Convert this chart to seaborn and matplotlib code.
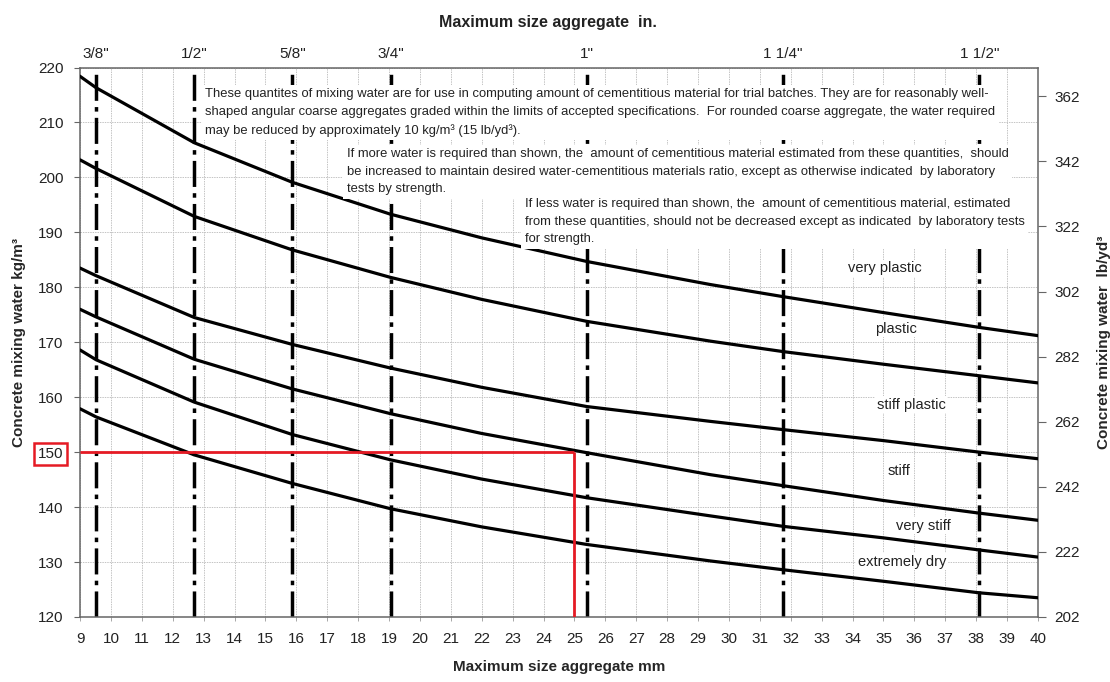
import numpy as np
import pandas as pd
import matplotlib
matplotlib.use('Agg')
import matplotlib.pyplot as plt
import seaborn as sns

# ---------------- data ----------------
sizes_mm = [9, 9.525, 12.7, 15.875, 19.05, 22, 25.4, 29.4, 31.75, 35, 38.1, 40]
very_plastic = [218.4, 216.3, 206.3, 199.1, 193.3, 189.0, 184.7, 180.5, 178.3, 175.4, 172.7, 171.2]
plastic = [203.2, 201.6, 192.9, 186.8, 181.8, 177.8, 173.8, 170.2, 168.3, 166.0, 163.9, 162.6]
stiff_plastic = [183.5, 182.1, 174.5, 169.6, 165.3, 161.8, 158.3, 155.6, 154.1, 152.1, 150.0, 148.8]
stiff = [176.0, 174.6, 166.9, 161.5, 157.0, 153.4, 149.9, 145.9, 143.9, 141.2, 138.9, 137.6]
very_stiff = [168.6, 166.8, 159.1, 153.2, 148.6, 145.1, 141.7, 138.4, 136.5, 134.4, 132.2, 130.9]
extremely_dry = [157.9, 156.4, 149.5, 144.3, 139.7, 136.4, 133.2, 130.2, 128.6, 126.5, 124.4, 123.5]

consistency_names = ['very plastic', 'plastic', 'stiff plastic', 'stiff', 'very stiff', 'extremely dry']
consistency_label_x = [35.05, 35.4, 35.9, 35.5, 36.3, 35.6]
consistency_label_y = [183.5, 172.5, 158.6, 146.6, 136.6, 130.1]

inch_mm = [9.525, 12.7, 15.875, 19.05, 25.4, 31.75, 38.1]
inch_labels = ['3/8"', '1/2"', '5/8"', '3/4"', '1"', '1 1/4"', '1 1/2"']

mm_ticks = list(range(9, 41))
kg_ticks = list(range(120, 221, 10))
lb_ticks = list(range(202, 363, 20))
kg_to_lb = 1.6856

guide_mm = 25
guide_kg = 150

note1 = ("These quantites of mixing water are for use in computing amount of cementitious material for trial batches. They are for reasonably well-\n"
         "shaped angular coarse aggregates graded within the limits of accepted specifications.  For rounded coarse aggregate, the water required\n"
         "may be reduced by approximately 10 kg/m\u00b3 (15 lb/yd\u00b3).")
note2 = ("If more water is required than shown, the  amount of cementitious material estimated from these quantities,  should\n"
         "be increased to maintain desired water-cementitious materials ratio, except as otherwise indicated  by laboratory\n"
         "tests by strength.")
note3 = ("If less water is required than shown, the  amount of cementitious material, estimated\n"
         "from these quantities, should not be decreased except as indicated  by laboratory tests\n"
         "for strength.")

# ---------------- style ----------------
sns.set_style('white')
plt.rcParams['font.family'] = ['Liberation Sans', 'DejaVu Sans']
plt.rcParams['text.color'] = '#222222'

fig = plt.figure(figsize=(11.1, 6.82), dpi=100)
ax = fig.add_axes([80 / 1110, 1 - 617 / 682, 958 / 1110, 549.5 / 682])

series = [very_plastic, plastic, stiff_plastic, stiff, very_stiff, extremely_dry]
df = pd.DataFrame({
    'mm': sizes_mm * len(series),
    'water': [v for s in series for v in s],
    'consistency': [n for n, s in zip(consistency_names, series) for _ in s],
})

sns.lineplot(data=df, x='mm', y='water', units='consistency', estimator=None,
             color='black', lw=2.3, sort=False, ax=ax, zorder=3, legend=False)

for m in inch_mm:
    ax.axvline(m, color='black', lw=2.5, linestyle=(0, (7.5, 1.8, 1.3, 1.8)), zorder=2)

# red guide
ax.plot([mm_ticks[0], guide_mm], [guide_kg, guide_kg], color='#e51a24', lw=2, zorder=4, solid_capstyle='butt')
ax.plot([guide_mm, guide_mm], [guide_kg, kg_ticks[0]], color='#e51a24', lw=2, zorder=4, solid_capstyle='butt')

ax.set_xlim(mm_ticks[0], mm_ticks[-1])
ax.set_ylim(kg_ticks[0], kg_ticks[-1])
ax.set_xticks(mm_ticks, labels=[str(v) for v in mm_ticks])
ax.set_yticks(kg_ticks, labels=[str(v) for v in kg_ticks])
ax.grid(True, color='#c4c4c4', lw=0.7, ls=(0, (1.5, 1)), zorder=0.5)
ax.set_axisbelow(True)
ax.tick_params(axis='y', labelsize=11, length=4, width=0.8, pad=8, colors='#666666', labelcolor='#222222', direction='out', left=True)
ax.tick_params(axis='x', labelsize=11, length=3, width=0.6, pad=8, colors='#999999', labelcolor='#222222', direction='out', bottom=True)
for sp in ax.spines.values():
    sp.set_color('#666666')
    sp.set_linewidth(1.1)

for lbl in ax.get_yticklabels():
    if lbl.get_text() == str(guide_kg):
        lbl.set_bbox(dict(facecolor='none', edgecolor='#e51a24', lw=1.8, pad=3))

ax.set_xlabel('Maximum size aggregate mm', fontweight='bold', fontsize=11)
ax.xaxis.set_label_coords(0.5, -0.078)
ax.set_ylabel('Concrete mixing water kg/m\u00b3', fontweight='bold', fontsize=11)
ax.yaxis.set_label_coords(-0.056, 0.5)

# notes
box = dict(facecolor='white', edgecolor='none', pad=2.5)
ax.text(13.05, 216.2, note1, fontsize=9.4, ha='left', va='top', linespacing=1.62, bbox=box, zorder=6)
ax.text(17.63, 205.3, note2, fontsize=9.4, ha='left', va='top', linespacing=1.62, bbox=box, zorder=6)
ax.text(23.4, 196.2, note3, fontsize=9.4, ha='left', va='top', linespacing=1.62, bbox=box, zorder=6)

for name, lx, ly in zip(consistency_names, consistency_label_x, consistency_label_y):
    ax.text(lx, ly, name, fontsize=10.5, ha='center', va='center', zorder=6,
            bbox=dict(facecolor='white', edgecolor='none', pad=1))

# right axis (lb/yd3)
ax2 = ax.twinx()
ax2.set_ylim(kg_ticks[0] * kg_to_lb, kg_ticks[-1] * kg_to_lb)
ax2.set_yticks(lb_ticks, labels=[str(v) for v in lb_ticks])
ax2.tick_params(axis='y', labelsize=11, length=6, width=0.8, pad=6, colors='#666666', labelcolor='#222222', direction='out', right=True)
ax2.grid(False)
for sp in ax2.spines.values():
    sp.set_visible(False)
ax2.set_ylabel('Concrete mixing water  lb/yd\u00b3', fontweight='bold', fontsize=11, rotation=90)
ax2.yaxis.set_label_coords(1.062, 0.5)

# top axis (inches)
ax3 = ax.secondary_xaxis('top')
ax3.set_xticks(inch_mm, labels=inch_labels)
ax3.tick_params(axis='x', labelsize=11, length=0, pad=5, labelcolor='#222222')
ax3.spines['top'].set_visible(False)

fig.text(548 / 1110, 1 - 22 / 682, 'Maximum size aggregate  in.', fontweight='bold', fontsize=11.5,
         ha='center', va='center')

fig.savefig('out.png', dpi=100, facecolor='white')
